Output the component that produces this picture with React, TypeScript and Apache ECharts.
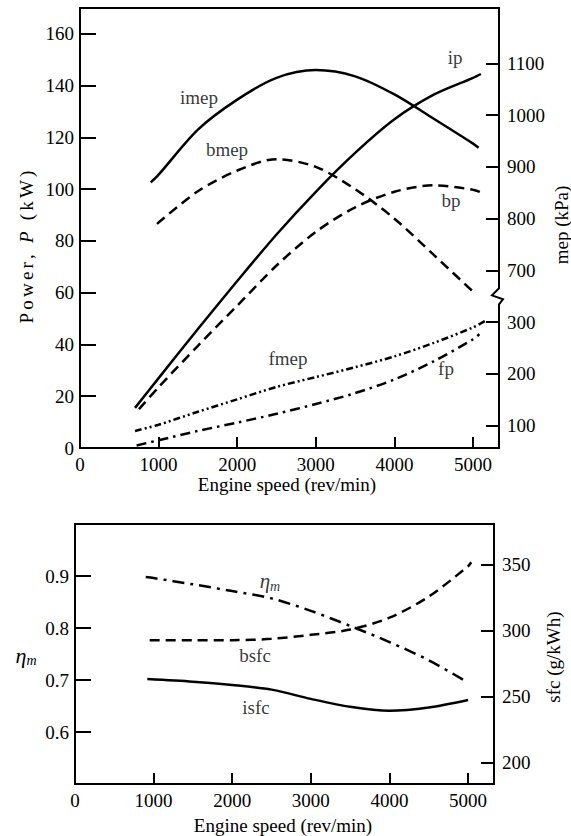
import React, { useEffect, useRef } from "react";
import * as echarts from "echarts";

// ---------- data ----------
// Top panel: power (kW) vs engine speed
const ipRpm = [700, 1000, 1500, 2000, 2500, 3000, 3500, 4000, 4500, 5000, 5100];
const ipKW = [15.5, 27, 46, 64.5, 82.5, 99, 114, 127, 136.5, 143, 144.5];
const bpRpm = [750, 1000, 1500, 2000, 2500, 3000, 3500, 4000, 4500, 5000, 5100];
const bpKW = [15, 23.5, 39.5, 55, 70.5, 83.5, 93, 99, 101.5, 99.8, 98.8];
const fpRpm = [720, 1000, 1500, 2000, 2500, 3000, 3500, 4000, 4500, 5000, 5080];
const fpKW = [1, 3, 6.6, 9.8, 13.2, 17, 21.2, 26.5, 33.5, 42, 44];

// Top panel: mean effective pressure (kPa), right axis (broken between 300 and 700)
const imepRpm = [900, 1000, 1500, 2000, 2500, 3000, 3500, 4000, 4500, 5000, 5070];
const imepKPa = [870, 885, 972, 1030, 1072, 1087, 1075, 1040, 993, 945, 937];
const bmepRpm = [980, 1500, 2000, 2500, 3000, 3500, 4000, 4500, 5000, 5020];
const bmepKPa = [790, 853, 893, 915, 900, 857, 800, 730, 659, 656];
const fmepRpm = [700, 1000, 1500, 2000, 2500, 3000, 3500, 4000, 4500, 5000, 5150];
const fmepKPa = [90, 102, 127, 151, 175, 194, 213, 234, 260, 290, 302];

// Bottom panel
const etaRpm = [900, 1000, 1500, 2000, 2500, 3000, 3500, 4000, 4500, 5000];
const etaM = [0.898, 0.896, 0.884, 0.871, 0.857, 0.833, 0.804, 0.773, 0.738, 0.695];
const bsfcRpm = [950, 1500, 2000, 2500, 3000, 3500, 4000, 4500, 5000, 5040];
const bsfc = [293, 293, 293, 294, 297, 301, 310, 326, 349, 352];
const isfcRpm = [920, 1500, 2000, 2500, 3000, 3500, 4000, 4500, 5000];
const isfc = [263.5, 261.5, 259, 255.5, 248.5, 242.5, 239.5, 242, 247.7];

// tick values
const xTicks = [0, 1000, 2000, 3000, 4000, 5000];
const powerTicks = [0, 20, 40, 60, 80, 100, 120, 140, 160];
const mepTicksReal = [100, 200, 300, 700, 800, 900, 1000, 1100];
const etaTicks = [0.6, 0.7, 0.8, 0.9];
const sfcTicks = [200, 250, 300, 350];

// broken mep axis: values from 700 up are drawn 300 lower
const MEP_SHIFT = 300;
const toAxis = (v: number) => (v > 500 ? v - MEP_SHIFT : v);
const fromAxis = (v: number) => (v > 350 ? v + MEP_SHIFT : v);
const BREAK_AT = 350;

const X_MAX = 5330;
const FONT = "'Liberation Serif', 'Times New Roman', serif";
const BLACK = "#000";

const zip = (xs: number[], ys: number[], f: (v: number) => number = (v) => v) =>
  xs.map((x, i) => [x, f(ys[i])]);

function line(name: string, data: number[][], xi: number, yi: number, type: any) {
  return {
    name,
    type: "line",
    xAxisIndex: xi,
    yAxisIndex: yi,
    data,
    smooth: 0.3,
    showSymbol: false,
    symbol: "none",
    silent: true,
    lineStyle: { color: BLACK, width: 2.5, type, cap: "butt" },
    z: 3,
  };
}

function label(text: string, pt: number[], xi: number, yi: number, rich?: any) {
  return {
    type: "scatter",
    xAxisIndex: xi,
    yAxisIndex: yi,
    data: [pt],
    symbolSize: 1,
    silent: true,
    itemStyle: { color: "rgba(0,0,0,0)" },
    label: {
      show: true,
      position: "inside",
      formatter: text,
      color: BLACK,
      fontFamily: FONT,
      fontSize: 19,
      rich,
    },
    z: 5,
  };
}

function xAxis(gridIndex: number) {
  return {
    type: "value",
    gridIndex,
    min: 0,
    max: X_MAX,
    axisLine: { show: true, onZero: false, lineStyle: { color: BLACK, width: 2 } },
    axisTick: { show: true, inside: true, length: 11, lineStyle: { color: BLACK, width: 2 }, customValues: xTicks },
    axisLabel: {
      color: BLACK,
      fontFamily: FONT,
      fontSize: 19,
      margin: 7,
      customValues: xTicks,
      formatter: (v: number) => String(v),
    },
    splitLine: { show: false },
  };
}

function yAxis(gridIndex: number, position: string, min: number, max: number, ticks: number[], tickLen: number, formatter?: any) {
  return {
    type: "value",
    gridIndex,
    position,
    min,
    max,
    axisLine: { show: true, onZero: false, lineStyle: { color: BLACK, width: 2 } },
    axisTick: { show: true, inside: true, length: tickLen, lineStyle: { color: BLACK, width: 2 }, customValues: ticks },
    axisLabel: {
      color: BLACK,
      fontFamily: FONT,
      fontSize: 19,
      margin: position === "left" ? 6 : 8,
      customValues: ticks,
      formatter: formatter || ((v: number) => String(v)),
    },
    splitLine: { show: false },
  };
}

function spaced(text: string, italicIdx: number[]) {
  return text
    .split("")
    .map((ch, i) => `{${italicIdx.includes(i) ? "i" : "c"}|${ch}}`)
    .join("");
}

function nameText(x: number, y: number, text: string, rotate: boolean, rich?: any) {
  return {
    type: "text",
    x,
    y,
    rotation: rotate ? Math.PI / 2 : 0,
    z: 50,
    silent: true,
    style: {
      text,
      fill: BLACK,
      fontFamily: FONT,
      fontSize: 19,
      textAlign: "center",
      textVerticalAlign: "middle",
      verticalAlign: "middle",
      rich,
    },
  };
}

export default function App() {
  const ref = useRef<HTMLDivElement>(null);

  useEffect(() => {
    if (!ref.current) return;
    const chart = echarts.init(ref.current, null, { renderer: "svg" });

    const solid = "solid";
    const dashed = [10, 6];
    const dashDot = [10, 5, 2.5, 5];
    const dashDotDot = [7, 3, 2, 3, 2, 3];
    const etaDash = [12, 6, 3, 6];

    const etaRich = {
      e: { fontStyle: "italic", fontSize: 21, fontFamily: FONT, color: BLACK },
      s: { fontStyle: "italic", fontSize: 14, fontFamily: FONT, color: BLACK, padding: [10, 0, 0, 0] },
    };

    const option: any = {
      animation: false,
      backgroundColor: "#fff",
      grid: [
        { left: 80, top: 8, width: 419, height: 440, show: true, borderColor: BLACK, borderWidth: 2 },
        { left: 75, top: 524, width: 419, height: 260, show: true, borderColor: BLACK, borderWidth: 2 },
      ],
      xAxis: [xAxis(0), xAxis(1)],
      yAxis: [
        yAxis(0, "left", 0, 170, powerTicks, 16),
        yAxis(0, "right", 57, 907, mepTicksReal.map(toAxis), 13, (v: number) => String(fromAxis(v))),
        yAxis(1, "left", 0.5, 1.0, etaTicks, 16, (v: number) => v.toFixed(1)),
        yAxis(1, "right", 184, 381, sfcTicks, 13),
      ],
      series: [
        line("ip", zip(ipRpm, ipKW), 0, 0, solid),
        line("bp", zip(bpRpm, bpKW), 0, 0, dashed),
        line("fp", zip(fpRpm, fpKW), 0, 0, dashDot),
        line("imep", zip(imepRpm, imepKPa, toAxis), 0, 1, solid),
        line("bmep", zip(bmepRpm, bmepKPa, toAxis), 0, 1, dashed),
        line("fmep", zip(fmepRpm, fmepKPa, toAxis), 0, 1, dashDotDot),
        line("eta", zip(etaRpm, etaM), 1, 2, etaDash),
        line("bsfc", zip(bsfcRpm, bsfc), 1, 3, dashed),
        line("isfc", zip(isfcRpm, isfc), 1, 3, solid),
        label("imep", [1514, 135.6], 0, 0),
        label("bmep", [1870, 115.5], 0, 0),
        label("ip", [4771, 150.7], 0, 0),
        label("bp", [4720, 95.8], 0, 0),
        label("fmep", [2646, 34.4], 0, 0),
        label("fp", [4656, 30.9], 0, 0),
        label("{e|η}{s|m}", [2480, 0.89], 1, 2, etaRich),
        label("bsfc", [2290, 281], 1, 3),
        label("isfc", [2303, 241.6], 1, 3),
      ],
    };

    chart.setOption(option);

    const ax = chart.convertToPixel({ xAxisIndex: 0 } as any, X_MAX) as unknown as number;
    const y0 = chart.convertToPixel({ yAxisIndex: 1 } as any, BREAK_AT) as unknown as number;

    const charRich = (size: number) => ({
      c: { fontSize: size, fontFamily: FONT, fill: BLACK, color: BLACK, padding: [0, 1.6, 0, 1.6] },
      i: { fontSize: size, fontFamily: FONT, fontStyle: "italic", fill: BLACK, color: BLACK, padding: [0, 1.6, 0, 1.6] },
    });

    chart.setOption({
      graphic: [
        nameText(26, 247, spaced("Power, P (kW)", [7]), true, charRich(19)),
        nameText(561, 225, "mep (kPa)", true),
        nameText(287, 484, "Engine speed (rev/min)", false),
        nameText(26, 655, "{e|η}{s|m}", false, {
          e: { fontStyle: "italic", fontSize: 22, fontFamily: FONT, fill: BLACK },
          s: { fontStyle: "italic", fontSize: 14, fontFamily: FONT, fill: BLACK, padding: [10, 0, 0, 0] },
        }),
        nameText(553, 657, "sfc (g/kWh)", true),
        nameText(283, 825, "Engine speed (rev/min)", false),
        {
          type: "rect",
          z: 100,
          silent: true,
          shape: { x: ax - 4, y: y0 - 11, width: 8, height: 22 },
          style: { fill: "#fff" },
        },
        {
          type: "polyline",
          z: 101,
          silent: true,
          shape: {
            points: [
              [ax, y0 - 12],
              [ax, y0 - 8],
              [ax - 7, y0 - 1],
              [ax + 4, y0 + 3],
              [ax, y0 + 8],
              [ax, y0 + 12],
            ],
          },
          style: { stroke: BLACK, lineWidth: 2, fill: null },
        },
      ],
    });

    return () => chart.dispose();
  }, []);

  return (
    <div
      ref={ref}
      style={{ position: "absolute", left: 0, top: 0, width: 571, height: 836, background: "#fff" }}
    />
  );
}
